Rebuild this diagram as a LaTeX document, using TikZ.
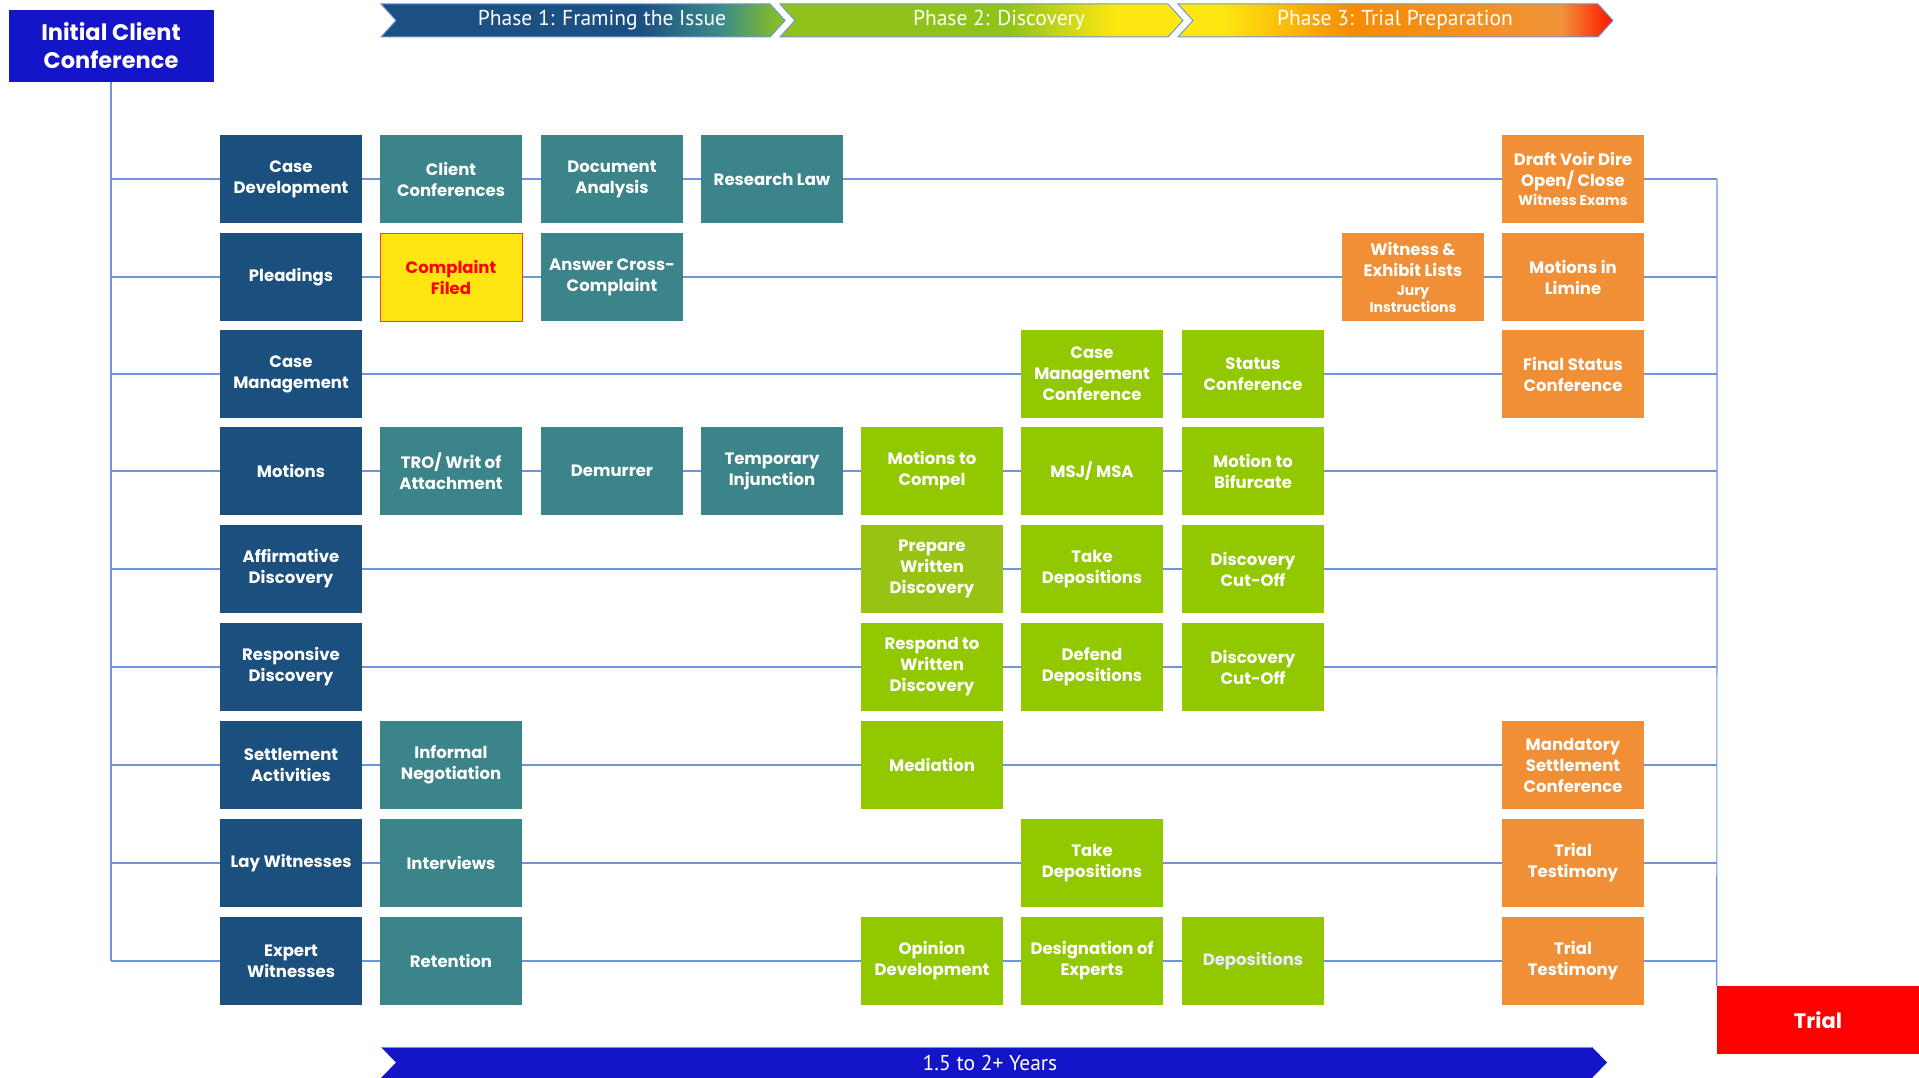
\documentclass[tikz,border=0pt]{standalone}
\usepackage{fontspec}
\setmainfont{Poppins}
\newfontfamily\phasefont{PT Sans}
\usetikzlibrary{positioning}

\definecolor{cnavy}{HTML}{1B4F7E}
\definecolor{cteal}{HTML}{3B8489}
\definecolor{clime}{HTML}{92C800}
\definecolor{colive}{HTML}{99C313}
\definecolor{corange}{HTML}{F08F36}
\definecolor{cyellow}{HTML}{FFE612}
\definecolor{croyal}{HTML}{1414C8}
\definecolor{cline}{HTML}{6F94DA}
\definecolor{cborder}{HTML}{FF3B30}
\definecolor{pblue}{HTML}{1C4F82}
\definecolor{pteal}{HTML}{3B8A8B}
\definecolor{pgreen}{HTML}{8FC31A}
\definecolor{pyellow}{HTML}{FFE812}
\definecolor{pdeep}{HTML}{F78C00}
\definecolor{plight}{HTML}{F0943A}
\definecolor{pred}{HTML}{FF1E00}

\pgfdeclarehorizontalshading{phaseone}{100bp}{color(0bp)=(pblue); color(25bp)=(pblue); color(57bp)=(pblue); color(67bp)=(pteal); color(75bp)=(pgreen); color(100bp)=(pgreen)}
\pgfdeclarehorizontalshading{phasetwo}{100bp}{color(0bp)=(pgreen); color(25bp)=(pgreen); color(53bp)=(pgreen); color(67bp)=(pyellow); color(75bp)=(pyellow); color(100bp)=(pyellow)}
\pgfdeclarehorizontalshading{phasethree}{100bp}{color(0bp)=(pyellow); color(25bp)=(pyellow); color(30bp)=(pyellow); color(45bp)=(pdeep); color(69bp)=(plight); color(74.5bp)=(pred); color(100bp)=(pred)}

\begin{document}
\begin{tikzpicture}[x=1pt, y=-1pt,
        box/.style={rectangle, minimum width=142pt, minimum height=88pt, inner sep=2pt, align=center, text=white, font=\bfseries\fontsize{16.5}{21}\selectfont},
        darkblue/.style={box, fill=cnavy},
        teal/.style={box, fill=cteal},
        lime/.style={box, fill=clime},
        orange/.style={box, fill=corange},
        yellow/.style={box, fill=cyellow, draw=cborder, text=red},
        royal/.style={rectangle, fill=croyal, text=white, minimum width=205pt, minimum height=72pt, align=center, font=\bfseries\fontsize{22.5}{28}\selectfont},
        red/.style={rectangle, fill=red, text=white, minimum width=202pt, minimum height=68pt, font=\bfseries\fontsize{21}{26}\selectfont},
        rowline/.style={draw=cline, line width=1.2pt},
        phase/.style={text=white, font=\phasefont\fontsize{21.5}{24}\selectfont},
        banner/.style={draw=cline, line width=1pt}
    ]
    \useasboundingbox (0,0) rectangle (1919,1078);

    % Phase banners
    \shadedraw[banner, shading=phaseone] (381,4) -- (770,4) -- (785,20.5) -- (770,37) -- (381,37) -- (396,20.5) -- cycle;
    \shadedraw[banner, shading=phasetwo] (780,4) -- (1168,4) -- (1183,20.5) -- (1168,37) -- (780,37) -- (795,20.5) -- cycle;
    \shadedraw[banner, shading=phasethree] (1178,4) -- (1598,4) -- (1613,20.5) -- (1598,37) -- (1178,37) -- (1193,20.5) -- cycle;
    \node[phase] (ph1) at (602,20.5) {Phase 1: Framing the Issue};
    \node[phase] (ph2) at (999,20.5) {Phase 2: Discovery};
    \node[phase] (ph3) at (1395,20.5) {Phase 3: Trial Preparation};

    % Time banner
    \fill[croyal] (381,1047) -- (1592,1047) -- (1607,1062.5) -- (1592,1078) -- (381,1078) -- (396,1062.5) -- cycle;
    \draw[cline, line width=1pt] (381,1047) -- (1592,1047);
    \node[phase] (years) at (990,1063) {1.5 to 2+ Years};

    % Start and end
    \node[royal] (start) at (111,46) {Initial Client\\Conference};
    \node[red] (trial) at (1818,1020) {Trial};

    % Rows
    \coordinate (L1) at (111,179);
    \coordinate (L2) at (111,277);
    \coordinate (L3) at (111,374);
    \coordinate (L4) at (111,471);
    \coordinate (L5) at (111,569);
    \coordinate (L6) at (111,667);
    \coordinate (L7) at (111,765);
    \coordinate (L8) at (111,863);
    \coordinate (L9) at (111,961);
    \coordinate (R1) at (1717,179);
    \coordinate (R2) at (1717,277);
    \coordinate (R3) at (1717,374);
    \coordinate (R4) at (1717,471);
    \coordinate (R5) at (1717,569);
    \coordinate (R6) at (1717,667);
    \coordinate (R7) at (1717,765);
    \coordinate (R8) at (1717,863);
    \coordinate (R9) at (1717,961);
    \draw[rowline] (start) -- (L9);
    \draw[rowline] (R1) -- (trial.north west);
    \draw[rowline] (L1) -- (R1);
    \draw[rowline] (L2) -- (R2);
    \draw[rowline] (L3) -- (R3);
    \draw[rowline] (L4) -- (R4);
    \draw[rowline] (L5) -- (R5);
    \draw[rowline] (L6) -- (R6);
    \draw[rowline] (L7) -- (R7);
    \draw[rowline] (L8) -- (R8);
    \draw[rowline] (L9) -- (R9);

    % Case development
    \node[darkblue] (casedev) at (291,179) {Case\\Development};
    \node[teal] (clientconf) at (451,179) {Client\\Conferences};
    \node[teal] (docs) at (612,179) {Document\\Analysis};
    \node[teal] (research) at (772,179) {Research Law};
    \node[orange] (voirdire) at (1573,179) {Draft Voir Dire\\Open/ Close\\[-2pt]{\fontsize{14}{16}\selectfont Witness Exams}};

    % Pleadings
    \node[darkblue] (pleadings) at (291,277) {Pleadings};
    \node[yellow] (complaint) at (451,277) {Complaint\\Filed};
    \node[teal] (answer) at (612,277) {Answer Cross-\\Complaint};
    \node[orange] (lists) at (1413,277) {Witness \&\\Exhibit Lists\\[-2pt]{\fontsize{14}{16}\selectfont Jury}\\[-4pt]{\fontsize{14}{16}\selectfont Instructions}};
    \node[orange] (limine) at (1573,277) {Motions in\\Limine};

    % Case management
    \node[darkblue] (casemgmt) at (291,374) {Case\\Management};
    \node[lime] (cmc) at (1092,374) {Case\\Management\\Conference};
    \node[lime] (status) at (1253,374) {Status\\Conference};
    \node[orange] (finalstatus) at (1573,374) {Final Status\\Conference};

    % Motions
    \node[darkblue] (motions) at (291,471) {Motions};
    \node[teal] (tro) at (451,471) {TRO/ Writ of\\Attachment};
    \node[teal] (demurrer) at (612,471) {Demurrer};
    \node[teal] (injunction) at (772,471) {Temporary\\Injunction};
    \node[lime] (compel) at (932,471) {Motions to\\Compel};
    \node[lime] (msj) at (1092,471) {MSJ/ MSA};
    \node[lime] (bifurcate) at (1253,471) {Motion to\\Bifurcate};

    % Affirmative discovery
    \node[darkblue] (affirm) at (291,569) {Affirmative\\Discovery};
    \node[lime, fill=colive] (prepare) at (932,569) {Prepare\\Written\\Discovery};
    \node[lime] (takedep) at (1092,569) {Take\\Depositions};
    \node[lime] (cutoffa) at (1253,569) {Discovery\\Cut-Off};

    % Responsive discovery
    \node[darkblue] (respons) at (291,667) {Responsive\\Discovery};
    \node[lime] (respond) at (932,667) {Respond to\\Written\\Discovery};
    \node[lime] (defend) at (1092,667) {Defend\\Depositions};
    \node[lime] (cutoffb) at (1253,667) {Discovery\\Cut-Off};

    % Settlement
    \node[darkblue] (settle) at (291,765) {Settlement\\Activities};
    \node[teal] (informal) at (451,765) {Informal\\Negotiation};
    \node[lime] (mediation) at (932,765) {Mediation};
    \node[orange] (msc) at (1573,765) {Mandatory\\Settlement\\Conference};

    % Lay witnesses
    \node[darkblue] (lay) at (291,863) {Lay Witnesses};
    \node[teal] (interviews) at (451,863) {Interviews};
    \node[lime] (laydep) at (1092,863) {Take\\Depositions};
    \node[orange] (laytrial) at (1573,863) {Trial\\Testimony};

    % Expert witnesses
    \node[darkblue] (expert) at (291,961) {Expert\\Witnesses};
    \node[teal] (retention) at (451,961) {Retention};
    \node[lime] (opinion) at (932,961) {Opinion\\Development};
    \node[lime] (designation) at (1092,961) {Designation of\\Experts};
    \node[lime, text=blue!8!white] (expdep) at (1253,961) {Depositions};
    \node[orange] (exptrial) at (1573,961) {Trial\\Testimony};
\end{tikzpicture}
\end{document}
